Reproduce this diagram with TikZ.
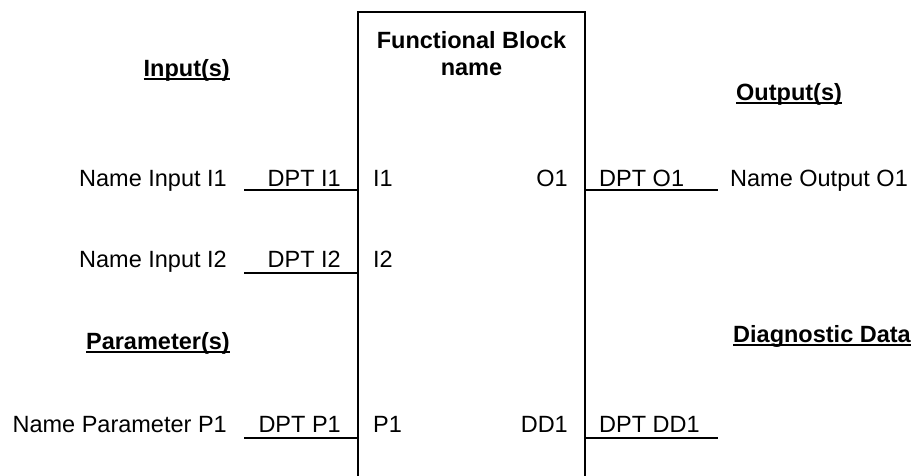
\documentclass[tikz,border=0pt]{standalone}
\usepackage{fontspec}
\setmainfont{Liberation Sans}
\usetikzlibrary{positioning,calc}
% thick underline like the word processor one
\newcommand{\headul}[1]{\setbox0\hbox{#1}\rlap{\rule[-3.6pt]{\wd0}{1.8pt}}\box0}
\tikzset{
    every node/.style={font=\fontsize{23.5}{27}\selectfont, inner sep=0pt},
    heading/.style={font=\fontsize{23.5}{27}\selectfont\bfseries},
    wire/.style={line width=2pt},
    blockline/.style={line width=2pt},
}

\begin{document}
\begin{tikzpicture}[x=1pt,y=-1pt]
  \useasboundingbox (0,0) rectangle (915,475);
  % block outline, open at the bottom
  \coordinate (bl) at (358,476);
  \coordinate (tl) at (358,11.5);
  \coordinate (tr) at (585,11.5);
  \coordinate (br) at (585,476);
  \draw[blockline] (bl) -- (tl) -- (tr) -- (br);
  % base of a two line node is the last line
  \node[heading, align=center, anchor=base] (fbname) at (471.5,75) {Functional Block\\name};

  % headings
  \node[heading, anchor=base east] (hin) at (230,76) {\headul{Input(s)}};
  \node[heading, anchor=base east] (hpar) at (230,349) {\headul{Parameter(s)}};
  \node[heading, anchor=base west] (hout) at (736,100) {\headul{Output(s)}};
  \node[heading, anchor=base west] (hdiag) at (733,342) {\headul{Diagnostic Data}};

  % input I1
  \node[anchor=base east] (ni1) at (227,186) {Name Input I1};
  \node[anchor=base east] (dpti1) at (341,186) {DPT I1};
  \node[anchor=base west] (pi1) at (373,186) {I1};
  \coordinate (wi1) at (244,190);
  \draw[wire] (wi1) -- (wi1 -| tl);

  % input I2
  \node[anchor=base east] (ni2) at (227,267) {Name Input I2};
  \node[anchor=base east] (dpti2) at (341,267) {DPT I2};
  \node[anchor=base west] (pi2) at (373,267) {I2};
  \coordinate (wi2) at (244,273);
  \draw[wire] (wi2) -- (wi2 -| tl);

  % parameter P1
  \node[anchor=base east] (np1) at (227,432) {Name Parameter P1};
  \node[anchor=base east] (dptp1) at (341,432) {DPT P1};
  \node[anchor=base west] (pp1) at (373,432) {P1};
  \coordinate (wp1) at (244,438);
  \draw[wire] (wp1) -- (wp1 -| tl);

  % output O1
  \node[anchor=base east] (po1) at (568,186) {O1};
  \node[anchor=base west] (dpto1) at (599,186) {DPT O1};
  \node[anchor=base west] (no1) at (730,186) {Name Output O1};
  \coordinate (wo1) at (718,190);
  \draw[wire] (wo1 -| tr) -- (wo1);

  % diagnostic data DD1
  \node[anchor=base east] (pdd1) at (568,432) {DD1};
  \node[anchor=base west] (dptdd1) at (599,432) {DPT DD1};
  \coordinate (wdd1) at (718,438);
  \draw[wire] (wdd1 -| tr) -- (wdd1);
\end{tikzpicture}
\end{document}
